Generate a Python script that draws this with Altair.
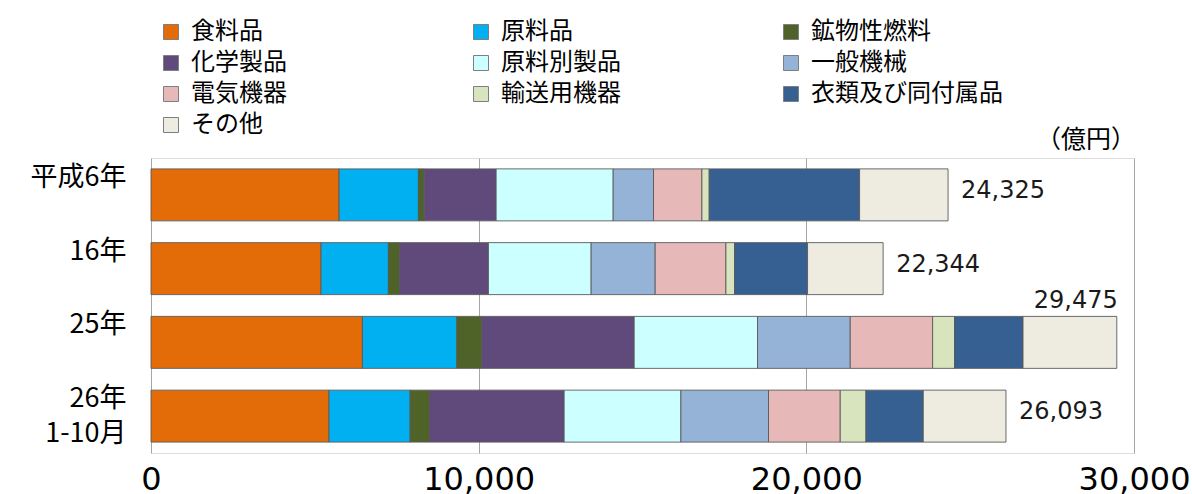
import altair as alt
import pandas as pd

# ---- data ----
years = ["平成6年", "16年", "25年", "26年|1-10月"]
categories = ["食料品", "原料品", "鉱物性燃料", "化学製品", "原料別製品",
              "一般機械", "電気機器", "輸送用機器", "衣類及び同付属品", "その他"]
colors = ["#E36C09", "#00B0F0", "#4F6228", "#604A7B", "#CCFFFF",
          "#95B3D7", "#E6B9B8", "#D7E4BD", "#376092", "#EEECE1"]
v_h6 = [5740, 2421, 174, 2198, 3572, 1231, 1477, 223, 4589, 2700]
v_h16 = [5190, 2055, 336, 2717, 3135, 1954, 2158, 265, 2227, 2307]
v_h25 = [6452, 2881, 763, 4650, 3765, 2829, 2514, 671, 2088, 2862]
v_h26 = [5434, 2473, 590, 4112, 3563, 2674, 2189, 785, 1749, 2524]
totals = [24325, 22344, 29475, 26093]
unit_label = "（億円）"
x_ticks = [0, 10000, 20000, 30000]

series = [v_h6, v_h16, v_h25, v_h26]
rows = []
for y, vals in zip(years, series):
    for i, (c, v) in enumerate(zip(categories, vals)):
        rows.append({"year": y, "cat": c, "value": v, "idx": i})
df = pd.DataFrame(rows)
tot_df = pd.DataFrame({"year": years, "total": totals})
unit_df = pd.DataFrame({"unit": [unit_label]})

JP = "Noto Sans CJK JP"
NUM = "DejaVu Sans"

y_enc = alt.Y("year:N", sort=years, title=None,
              scale=alt.Scale(paddingInner=0.295, paddingOuter=0.1475),
              axis=alt.Axis(labelExpr="split(datum.label, '|')",
                            labelFont=JP, labelFontSize=27, labelColor="#000000",
                            labelLineHeight=35, labelPadding=25, labelOffset=-17,
                            ticks=False, tickSize=0, domain=False, grid=False))

x_scale = alt.Scale(domain=[0, 30000], nice=False)

bars = alt.Chart(df).mark_bar(stroke="#595959", strokeWidth=0.9).encode(
    x=alt.X("value:Q", stack="zero", scale=x_scale, title=None,
            axis=alt.Axis(values=x_ticks, format=",d", labelFont=NUM,
                          labelFontSize=32, labelColor="#000000",
                          labelPadding=11, ticks=False, tickSize=0,
                          domain=False, grid=True, gridColor="#A6A6A6",
                          labelFlush=False, labelOverlap=False)),
    y=y_enc,
    color=alt.Color("cat:N", title=None,
                    scale=alt.Scale(domain=categories, range=colors),
                    legend=alt.Legend(orient="none", legendX=8, legendY=-138,
                                      direction="horizontal",
                                      columns=3, gridAlign="all",
                                      columnPadding=86, rowPadding=7,
                                      padding=0,
                                      symbolType="square", symbolSize=225,
                                      symbolStrokeColor="#7F7F7F",
                                      symbolStrokeWidth=1,
                                      labelFont=JP, labelFontSize=24,
                                      labelColor="#000000", labelOffset=8,
                                      labelLimit=400)),
    order=alt.Order("idx:Q"),
)

lab_side = alt.Chart(tot_df).transform_filter(
    alt.datum.total < 28000
).mark_text(align="left", baseline="middle", dx=13, dy=-4,
            font=NUM, fontSize=24, color="#1A1A1A").encode(
    x=alt.X("total:Q", scale=x_scale),
    y=alt.Y("year:N", sort=years),
    text=alt.Text("total:Q", format=",d"),
)

lab_top = alt.Chart(tot_df).transform_filter(
    alt.datum.total >= 28000
).mark_text(align="right", baseline="middle", dx=1, dy=-41,
            font=NUM, fontSize=24, color="#1A1A1A").encode(
    x=alt.X("total:Q", scale=x_scale),
    y=alt.Y("year:N", sort=years),
    text=alt.Text("total:Q", format=",d"),
)

unit = alt.Chart(unit_df).mark_text(
    align="right", baseline="middle", font=JP, fontSize=25, color="#000000"
).encode(text="unit:N", x=alt.value(985), y=alt.value(-18))

chart = alt.layer(bars, lab_side, lab_top, unit).properties(
    width=983, height=295,
    autosize=alt.AutoSizeParams(type="none"),
    padding={"left": 151, "top": 158, "right": 58, "bottom": 41},
).configure_view(stroke="#A6A6A6", strokeWidth=1.2).configure(background="#FFFFFF")

chart.save("out.html", embed_options={"renderer": "svg", "actions": False})
